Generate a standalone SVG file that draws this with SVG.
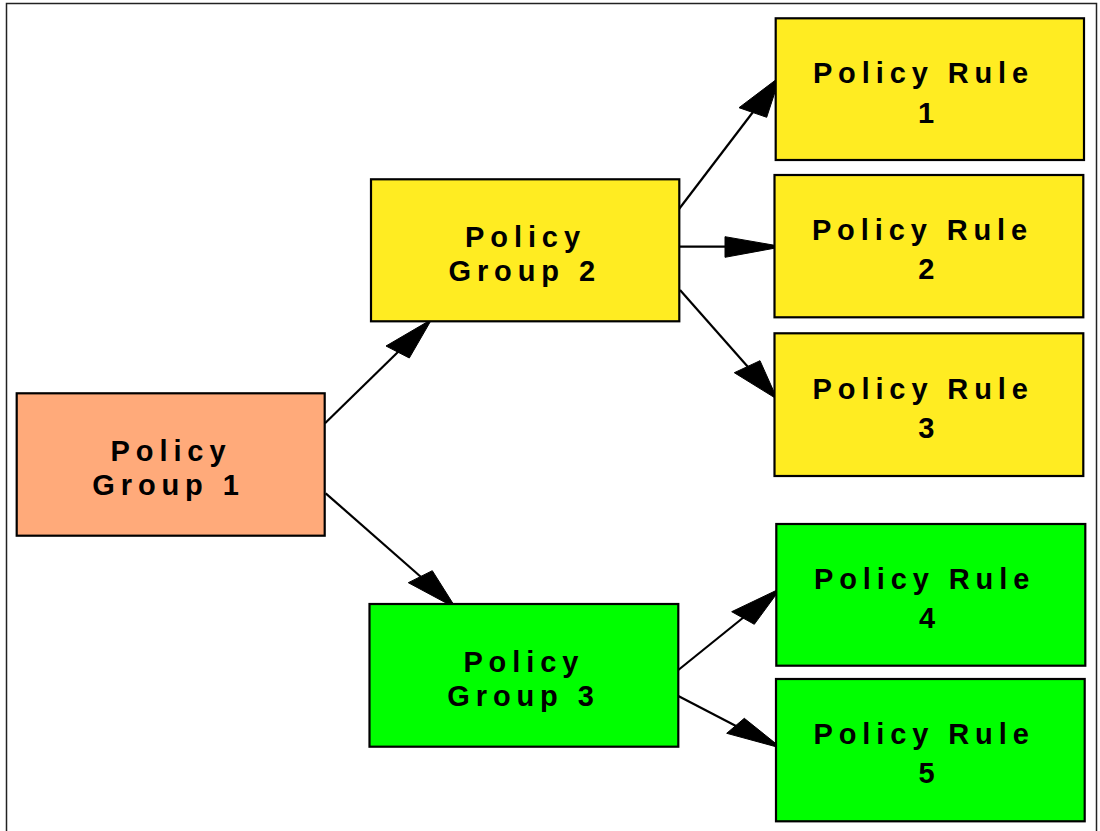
<svg xmlns="http://www.w3.org/2000/svg" width="1100" height="831" viewBox="0 0 1100 831">
  <style>
    .box { stroke: #000; stroke-width: 2.2; }
    .group { fill: #FFAA7A; }
    .yellow { fill: #FFEC22; }
    .green { fill: #00FF00; }
    .label { font-family: "Liberation Sans", Arial, sans-serif; font-weight: bold; font-size: 29px; letter-spacing: 5.9px; fill: #000; text-anchor: middle; }
    .edge { stroke: #000; stroke-width: 2.2; fill: none; }
    .head { fill: #000; stroke: #000; stroke-width: 1; stroke-linejoin: miter; }
  </style>

  <rect x="0" y="0" width="1100" height="831" fill="#fff"/>
  <!-- page frame -->
  <rect x="6.5" y="3.5" width="1090" height="840" fill="none" stroke="#222" stroke-width="1.5"/>

  <!-- connectors -->
  <g id="connectors">
    <line class="edge" x1="325" y1="423.3" x2="399" y2="351"/>
    <polygon class="head" points="431.7,319.3 386,346 409.3,358"/>

    <line class="edge" x1="678.3" y1="210" x2="753" y2="112"/>
    <polygon class="head" points="780,76.7 739,107.7 766.7,117.3"/>

    <line class="edge" x1="679" y1="246.7" x2="726" y2="246.7"/>
    <polygon class="head" points="782.7,246.7 725,236.7 725,257.3"/>

    <line class="edge" x1="680" y1="290" x2="748" y2="367"/>
    <polygon class="head" points="777.3,399.3 734.3,372.7 760,360.7"/>

    <line class="edge" x1="325.7" y1="493.3" x2="421" y2="577"/>
    <polygon class="head" points="456,608.3 408.3,582.7 432.3,570.7"/>

    <line class="edge" x1="678.3" y1="670" x2="744" y2="617"/>
    <polygon class="head" points="780.7,588.3 731.7,611.7 754.3,624.3"/>

    <line class="edge" x1="678.3" y1="696" x2="736" y2="726"/>
    <polygon class="head" points="781.7,748.3 726.7,733.3 744.3,718.3"/>
  </g>

  <g id="policy-group-1">
    <rect class="box group" x="16.7" y="393.3" width="308" height="142.4"/>
    <text class="label" x="171" y="461">Policy</text>
    <text class="label" x="168.5" y="495">Group 1</text>
  </g>

  <g id="policy-group-2">
    <rect class="box yellow" x="371" y="179.3" width="308.3" height="142"/>
    <text class="label" x="525.5" y="247.3">Policy</text>
    <text class="label" x="524.7" y="280.7">Group 2</text>
  </g>

  <g id="policy-group-3">
    <rect class="box green" x="369.5" y="604" width="308.8" height="142.7"/>
    <text class="label" x="523.8" y="671.7">Policy</text>
    <text class="label" x="523.5" y="705.7">Group 3</text>
  </g>

  <g id="policy-rule-1">
    <rect class="box yellow" x="775.7" y="18.3" width="308.3" height="141.7"/>
    <text class="label" x="923.5" y="83.3">Policy Rule</text>
    <text class="label" x="929" y="122.7">1</text>
  </g>

  <g id="policy-rule-2">
    <rect class="box yellow" x="774.5" y="175" width="308.8" height="142.3"/>
    <text class="label" x="922.5" y="240">Policy Rule</text>
    <text class="label" x="929.2" y="279">2</text>
  </g>

  <g id="policy-rule-3">
    <rect class="box yellow" x="774.5" y="333.3" width="308.8" height="142.7"/>
    <text class="label" x="923.2" y="399.3">Policy Rule</text>
    <text class="label" x="929.2" y="438.3">3</text>
  </g>

  <g id="policy-rule-4">
    <rect class="box green" x="776.3" y="524" width="309" height="141.7"/>
    <text class="label" x="924.6" y="589.3">Policy Rule</text>
    <text class="label" x="930" y="627.7">4</text>
  </g>

  <g id="policy-rule-5">
    <rect class="box green" x="776" y="679" width="308.7" height="142.3"/>
    <text class="label" x="924.1" y="744">Policy Rule</text>
    <text class="label" x="929.4" y="782.7">5</text>
  </g>
</svg>
